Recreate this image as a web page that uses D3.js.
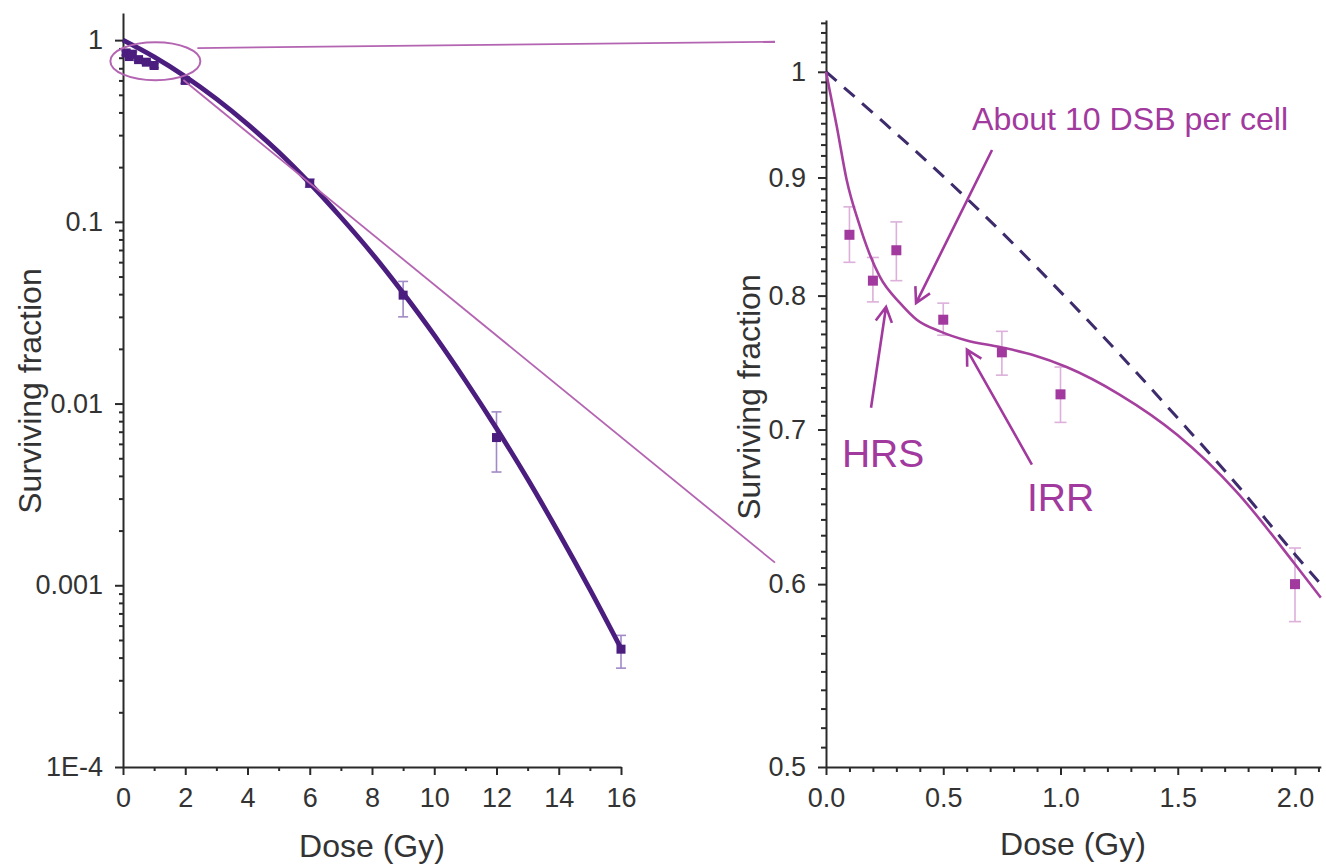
<!DOCTYPE html>
<html><head><meta charset="utf-8">
<script src="https://cdn.jsdelivr.net/npm/d3@7/dist/d3.min.js"></script>
<style>
body{margin:0;background:#fff}
svg{display:block}
text{font-family:"Liberation Sans",Arial,sans-serif}
</style>
</head><body>
<svg id="c" width="1326" height="864"></svg>
<script>
// ---------- data ----------
// left panel (full dose range, log scale)
const leftDose   = [0.1, 0.2, 0.3, 0.5, 0.75, 1.0, 2, 6, 9, 12, 16];
const leftSF     = [0.85, 0.812, 0.837, 0.781, 0.756, 0.725, 0.60, 0.163, 0.0395, 0.0065, 0.000445];
const leftErrLo  = [0.827, 0.795, 0.812, 0.769, 0.739, 0.705, 0.578, 0.155, 0.030, 0.0042, 0.00035];
const leftErrHi  = [0.874, 0.831, 0.861, 0.794, 0.772, 0.745, 0.622, 0.172, 0.047, 0.009, 0.00053];
const leftFitDose = [0, 1, 2, 3, 4, 5, 6, 7, 8, 9, 10, 11, 12, 13, 14, 15, 16];
const leftFitSF   = [1, 0.809, 0.631, 0.475, 0.345, 0.242, 0.163, 0.106, 0.067, 0.0406, 0.0238, 0.0134, 0.0073, 0.00384, 0.00194, 0.00095, 0.00045];
const leftXTicks  = [0, 2, 4, 6, 8, 10, 12, 14, 16];
const leftXMinor  = [1, 3, 5, 7, 9, 11, 13, 15];
const leftYTicks  = [1, 0.1, 0.01, 0.001, 0.0001];
const leftYLabels = ["1", "0.1", "0.01", "0.001", "1E-4"];

// right panel (low dose zoom)
const rightDose  = [0.1, 0.2, 0.3, 0.5, 0.75, 1.0, 2.0];
const rightSF    = [0.85, 0.812, 0.837, 0.781, 0.756, 0.725, 0.600];
const rightErrLo = [0.827, 0.795, 0.812, 0.769, 0.739, 0.705, 0.578];
const rightErrHi = [0.874, 0.831, 0.861, 0.794, 0.772, 0.745, 0.622];
const hrsFitDose = [0, 0.046, 0.088, 0.145, 0.174, 0.23, 0.316, 0.387, 0.486, 0.6, 0.742, 0.883, 1.026, 1.25, 1.5, 1.75, 2.0, 2.11];
const hrsFitSF   = [1.0, 0.947, 0.898, 0.857, 0.840, 0.815, 0.794, 0.781, 0.772, 0.765, 0.760, 0.754, 0.745, 0.725, 0.696, 0.658, 0.612, 0.592];
const lqFitDose  = [0, 0.25, 0.5, 0.75, 1.0, 1.25, 1.5, 1.75, 2.0, 2.11];
const lqFitSF    = [1.0, 0.950, 0.901, 0.852, 0.803, 0.755, 0.708, 0.663, 0.618, 0.600];
const rightXTicks  = [0, 0.5, 1.0, 1.5, 2.0];
const rightXLabels = ["0.0", "0.5", "1.0", "1.5", "2.0"];
const rightYTicks  = [1, 0.9, 0.8, 0.7, 0.6, 0.5];
const rightYLabels = ["1", "0.9", "0.8", "0.7", "0.6", "0.5"];

const xTitle = "Dose (Gy)";
const yTitle = "Surviving fraction";
const noteDSB = "About 10 DSB per cell";
const noteHRS = "HRS";
const noteIRR = "IRR";

// ---------- styles ----------
const C = {
  axis: "#2a2a2a", text: "#333",
  dark: "#4b1d7e", darkErr: "#a18ac6",
  mag: "#a2399e", magCurve: "#a5409f", magErr: "#dcb0da",
  dash: "#3d2b6c", conn: "#b465b2"
};
const TICK_FS = 27;

const svg = d3.select("#c");
svg.append("rect").attr("width", 1326).attr("height", 864).attr("fill", "#fff");

// ---------- scales ----------
const xL = d3.scaleLinear().domain([0, 16]).range([123, 621]);
const yL = d3.scaleLog().domain([1e-4, 1.41]).range([767, 13]);
const xR = d3.scaleLinear().domain([0, 2.11]).range([826, 1320.8]);
const yR = d3.scaleLog().domain([0.5, 1.053]).range([767, 20]);

function styleAxis(g) {
  g.select(".domain").attr("stroke", C.axis).attr("stroke-width", 2);
  g.selectAll(".tick line").attr("stroke", C.axis).attr("stroke-width", 2);
  g.selectAll(".tick text").attr("fill", C.text).attr("font-size", TICK_FS)
    .attr("font-family", '"Liberation Sans",Arial,sans-serif');
}

// ---------- left axes ----------
const lMinorY = [];
for (let e = -4; e <= -1; e++) for (let k = 2; k <= 9; k++) lMinorY.push(k * Math.pow(10, e));

svg.append("g").attr("transform", "translate(123,0)")
  .call(d3.axisLeft(yL).tickValues(lMinorY).tickSize(4).tickFormat("").tickSizeOuter(0))
  .call(g => { styleAxis(g); g.select(".domain").remove(); });
svg.append("g").attr("transform", "translate(0,767)")
  .call(d3.axisBottom(xL).tickValues(leftXMinor).tickSize(4).tickFormat("").tickSizeOuter(0))
  .call(g => { styleAxis(g); g.select(".domain").remove(); });

svg.append("g").attr("transform", "translate(123,0)")
  .call(d3.axisLeft(yL).tickValues(leftYTicks).tickSize(8).tickPadding(12).tickSizeOuter(0)
    .tickFormat((d, i) => leftYLabels[i]))
  .call(g => styleAxis(g));
svg.append("g").attr("transform", "translate(0,767)")
  .call(d3.axisBottom(xL).tickValues(leftXTicks).tickSize(8).tickPadding(13).tickSizeOuter(0)
    .tickFormat(d3.format("d")))
  .call(g => styleAxis(g));

// ---------- right axes ----------
const rMinorY = d3.range(50, 106).map(v => v / 100).filter(v => Math.round(v * 100) % 10 !== 0);
const rMinorX = d3.range(0, 22).map(v => v / 10).filter(v => Math.round(v * 10) % 5 !== 0);

svg.append("g").attr("transform", "translate(826,0)")
  .call(d3.axisLeft(yR).tickValues(rMinorY).tickSize(5).tickFormat("").tickSizeOuter(0))
  .call(g => { styleAxis(g); g.select(".domain").remove(); });
svg.append("g").attr("transform", "translate(0,767)")
  .call(d3.axisBottom(xR).tickValues(rMinorX).tickSize(5).tickFormat("").tickSizeOuter(0))
  .call(g => { styleAxis(g); g.select(".domain").remove(); });

svg.append("g").attr("transform", "translate(826,0)")
  .call(d3.axisLeft(yR).tickValues(rightYTicks).tickSize(8).tickPadding(12).tickSizeOuter(0)
    .tickFormat((d, i) => rightYLabels[i]))
  .call(g => styleAxis(g));
svg.append("g").attr("transform", "translate(0,767)")
  .call(d3.axisBottom(xR).tickValues(rightXTicks).tickSize(8).tickPadding(13).tickSizeOuter(0)
    .tickFormat((d, i) => rightXLabels[i]))
  .call(g => styleAxis(g));

// ---------- axis titles ----------
function title(x, y, txt, rot) {
  const t = svg.append("text").attr("text-anchor", "middle").attr("fill", C.text)
    .attr("font-size", 32).text(txt);
  if (rot) t.attr("transform", `translate(${x},${y}) rotate(-90)`).attr("dy", "0.35em");
  else t.attr("x", x).attr("y", y);
}
title(372, 857, xTitle, false);
title(1073, 855, xTitle, false);
title(30, 391, yTitle, true);
title(749, 397, yTitle, true);

// ---------- left panel marks ----------
const leftPts = leftDose.map((d, i) => ({x: d, y: leftSF[i], lo: leftErrLo[i], hi: leftErrHi[i]}));
const gLe = svg.append("g").attr("stroke", C.darkErr).attr("stroke-width", 1.6);
leftPts.forEach(p => {
  gLe.append("line").attr("x1", xL(p.x)).attr("x2", xL(p.x)).attr("y1", yL(p.lo)).attr("y2", yL(p.hi));
  [p.lo, p.hi].forEach(v => gLe.append("line").attr("x1", xL(p.x) - 5).attr("x2", xL(p.x) + 5)
    .attr("y1", yL(v)).attr("y2", yL(v)));
});
svg.append("path")
  .attr("d", d3.line().x(d => xL(d[0])).y(d => yL(d[1])).curve(d3.curveMonotoneX)(leftFitDose.map((d, i) => [d, leftFitSF[i]])))
  .attr("fill", "none").attr("stroke", C.dark).attr("stroke-width", 4.8);
svg.append("g").selectAll("rect").data(leftPts).join("rect")
  .attr("x", d => xL(d.x) - 4.5).attr("y", d => yL(d.y) - 4.5).attr("width", 9).attr("height", 9)
  .attr("fill", C.dark);

// zoom ellipse + connectors
const ellC = [1.04, 0.766];
svg.append("ellipse").attr("cx", xL(ellC[0])).attr("cy", yL(ellC[1])).attr("rx", 45).attr("ry", 19)
  .attr("fill", "none").attr("stroke", C.conn).attr("stroke-width", 2);
const connectors = [
  {from: [2.39, 0.904], to: [-0.2175, 1.0304]},
  {from: [1.94, 0.603], to: [-0.2175, 0.613]}
];
connectors.forEach(c => svg.append("line")
  .attr("x1", xL(c.from[0])).attr("y1", yL(c.from[1]))
  .attr("x2", xR(c.to[0])).attr("y2", yR(c.to[1]))
  .attr("stroke", C.conn).attr("stroke-width", 1.8));

// ---------- right panel marks ----------
const rightPts = rightDose.map((d, i) => ({x: d, y: rightSF[i], lo: rightErrLo[i], hi: rightErrHi[i]}));
const gRe = svg.append("g").attr("stroke", C.magErr).attr("stroke-width", 1.6);
rightPts.forEach(p => {
  gRe.append("line").attr("x1", xR(p.x)).attr("x2", xR(p.x)).attr("y1", yR(p.lo)).attr("y2", yR(p.hi));
  [p.lo, p.hi].forEach(v => gRe.append("line").attr("x1", xR(p.x) - 6).attr("x2", xR(p.x) + 6)
    .attr("y1", yR(v)).attr("y2", yR(v)));
});
const lineR = d3.line().x(d => xR(d[0])).y(d => yR(d[1])).curve(d3.curveMonotoneX);
svg.append("path").attr("d", lineR(lqFitDose.map((d, i) => [d, lqFitSF[i]])))
  .attr("fill", "none").attr("stroke", C.dash).attr("stroke-width", 3).attr("stroke-dasharray", "14,10");
svg.append("path").attr("d", lineR(hrsFitDose.map((d, i) => [d, hrsFitSF[i]])))
  .attr("fill", "none").attr("stroke", C.magCurve).attr("stroke-width", 2.6);
svg.append("g").selectAll("rect").data(rightPts).join("rect")
  .attr("x", d => xR(d.x) - 5).attr("y", d => yR(d.y) - 5).attr("width", 10).attr("height", 10)
  .attr("fill", C.mag);

// ---------- annotations ----------
function arrow(from, to) {
  const x1 = xR(from[0]), y1 = yR(from[1]), x2 = xR(to[0]), y2 = yR(to[1]);
  const a = Math.atan2(y2 - y1, x2 - x1), L = 17, w = 0.5;
  svg.append("path")
    .attr("d", `M${x1},${y1}L${x2},${y2}M${x2 - L * Math.cos(a - w)},${y2 - L * Math.sin(a - w)}L${x2},${y2}L${x2 - L * Math.cos(a + w)},${y2 - L * Math.sin(a + w)}`)
    .attr("fill", "none").attr("stroke", C.mag).attr("stroke-width", 2.6).attr("stroke-linejoin", "miter");
}
arrow([0.708, 0.925], [0.384, 0.794]);
arrow([0.192, 0.7154], [0.256, 0.791]);
arrow([0.878, 0.676], [0.601, 0.758]);

svg.append("text").attr("x", xR(0.623)).attr("y", yR(0.944)).attr("fill", C.mag)
  .attr("font-family", "Lato, 'Open Sans', sans-serif").attr("font-size", 32)
  .attr("textLength", 316).attr("lengthAdjust", "spacingAndGlyphs").text(noteDSB);
svg.append("text").attr("x", xR(0.068)).attr("y", yR(0.674)).attr("fill", C.mag)
  .attr("font-size", 39).text(noteHRS);
svg.append("text").attr("x", xR(0.857)).attr("y", yR(0.6455)).attr("fill", C.mag)
  .attr("font-size", 39).text(noteIRR);
</script>
</body></html>
